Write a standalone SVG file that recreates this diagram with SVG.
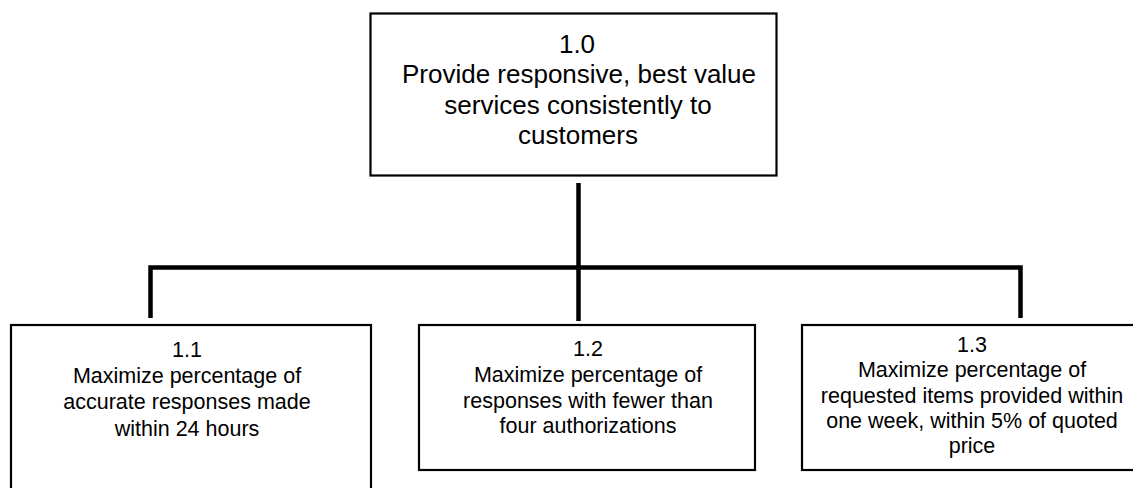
<svg xmlns="http://www.w3.org/2000/svg" width="1133" height="488" viewBox="0 0 1133 488">
<style>
.box{fill:#fff;stroke:#000;stroke-width:2.2}
.conn{fill:none;stroke:#000;stroke-width:4.5;stroke-linecap:butt;stroke-linejoin:miter}
.t{font-family:"Liberation Sans",Arial,sans-serif;fill:#000;text-anchor:middle}
.big{font-size:26px}
.sm{font-size:21.5px}
</style>
<rect width="1133" height="488" fill="#fff"/>
<g id="connectors">
<path class="conn" d="M578.5,183 V267.5"/>
<path class="conn" d="M150.5,318 V267.5 H1020.5 V318"/>
<path class="conn" d="M578.5,267.5 V321"/>
</g>
<g id="node-1-0">
<rect class="box" x="370.5" y="13.5" width="406" height="162"/>
<text class="t big" x="577" y="53">1.0</text>
<text class="t big" x="579" y="83">Provide responsive, best value</text>
<text class="t big" x="578" y="114">services consistently to</text>
<text class="t big" x="578" y="144">customers</text>
</g>
<g id="node-1-1">
<rect class="box" x="11" y="325" width="360" height="180"/>
<text class="t sm" x="187" y="357">1.1</text>
<text class="t sm" x="187" y="383">Maximize percentage of</text>
<text class="t sm" x="187" y="409">accurate responses made</text>
<text class="t sm" x="187" y="436">within 24 hours</text>
</g>
<g id="node-1-2">
<rect class="box" x="419" y="325" width="336" height="145"/>
<text class="t sm" x="588" y="356">1.2</text>
<text class="t sm" x="588" y="382">Maximize percentage of</text>
<text class="t sm" x="588" y="408">responses with fewer than</text>
<text class="t sm" x="588" y="433">four authorizations</text>
</g>
<g id="node-1-3">
<rect class="box" x="802" y="325" width="340" height="145"/>
<text class="t sm" x="972" y="352">1.3</text>
<text class="t sm" x="972" y="377">Maximize percentage of</text>
<text class="t sm" x="972" y="403">requested items provided within</text>
<text class="t sm" x="972" y="428">one week, within 5% of quoted</text>
<text class="t sm" x="972" y="453">price</text>
</g>
</svg>
